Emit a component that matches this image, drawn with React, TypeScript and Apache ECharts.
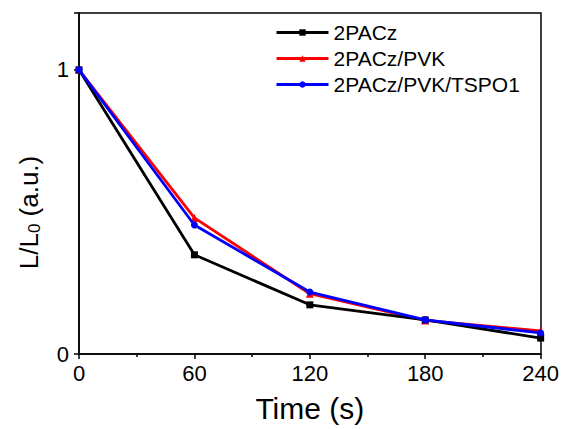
import React, { useEffect, useRef } from "react";
import * as echarts from "echarts";

const times = [0, 60, 120, 180, 240];
const seriesNames = ["2PACz", "2PACz/PVK", "2PACz/PVK/TSPO1"];
const s2PACz = [1.0, 0.349, 0.173, 0.12, 0.056];
const sPVK = [1.0, 0.479, 0.212, 0.118, 0.081];
const sTSPO1 = [1.0, 0.454, 0.218, 0.12, 0.074];
const colors = ["#000000", "#ff0000", "#0000ff"];
const symbols = ["rect", "triangle", "circle"];

export default function App() {
  const ref = useRef<HTMLDivElement>(null);
  useEffect(() => {
    const chart = echarts.init(ref.current!, null, { renderer: "svg" });
    const font = "Liberation Sans, Arial, sans-serif";
    const data = [s2PACz, sPVK, sTSPO1];
    chart.setOption({
      animation: false,
      textStyle: { fontFamily: font },
      grid: { left: 79, top: 13, right: 21, bottom: 75, show: false },
      legend: {
        left: 270,
        top: 17,
        orient: "vertical",
        itemWidth: 52,
        itemHeight: 8,
        itemGap: 5,
        lineStyle: { width: 3 },
        textStyle: { fontSize: 21, color: "#000", fontFamily: font },
        data: seriesNames,
      },
      xAxis: {
        type: "value",
        min: 0,
        max: 240,
        interval: 60,
        axisLine: { show: true, onZero: false, lineStyle: { color: "#000", width: 1.5 } },
        axisTick: { show: true, length: 5, lineStyle: { color: "#000", width: 1.5 } },
        minorTick: { show: true, splitNumber: 2, length: 3, lineStyle: { color: "#000", width: 1.5 } },
        splitLine: { show: false },
        axisLabel: { fontSize: 22, color: "#000", margin: 8, fontFamily: font },
        name: "Time (s)",
        nameLocation: "middle",
        nameGap: 39,
        nameTextStyle: { fontSize: 30, color: "#000", fontFamily: font },
      },
      yAxis: {
        type: "value",
        min: 0,
        max: 1.2,
        interval: 1,
        axisLine: { show: true, onZero: false, lineStyle: { color: "#000", width: 1.5 } },
        axisTick: { show: true, length: 5, lineStyle: { color: "#000", width: 1.5 } },
        splitLine: { show: false },
        axisLabel: {
          fontSize: 22,
          color: "#000",
          margin: 10,
          fontFamily: font,
          formatter: (v: number) => (v === 0 || v === 1 ? String(v) : ""),
        },
        name: "{a|L/L}{s|0}{a| (a.u.)}",
        nameLocation: "middle",
        nameGap: 36,
        nameTextStyle: {
          color: "#000",
          fontFamily: font,
          padding: [0, 58, 0, 0],
          rich: {
            a: { fontSize: 26, color: "#000", fontFamily: font },
            s: { fontSize: 17, color: "#000", fontFamily: font, verticalAlign: "bottom", padding: [12, 0, 0, 0] },
          },
        },
      },
      series: seriesNames.map((n, i) => ({
        name: n,
        type: "line",
        data: times.map((t, j) => [t, data[i][j]]),
        symbol: symbols[i],
        symbolSize: i === 1 ? 8 : 7,
        color: colors[i],
        lineStyle: { width: 2.8, color: colors[i] },
        itemStyle: { color: colors[i] },
        z: i === 0 ? 3 : i === 1 ? 2 : 4,
      })),
      graphic: [
        {
          type: "rect",
          shape: { x: 79, y: 13, width: 462, height: 341 },
          style: { fill: "none", stroke: "#000", lineWidth: 1.5 },
          silent: true,
          z: 0,
        },
      ],
    });
    return () => chart.dispose();
  }, []);
  return (
    <div
      ref={ref}
      style={{ position: "absolute", left: 0, top: 0, width: 562, height: 429, background: "#fff" }}
    />
  );
}
